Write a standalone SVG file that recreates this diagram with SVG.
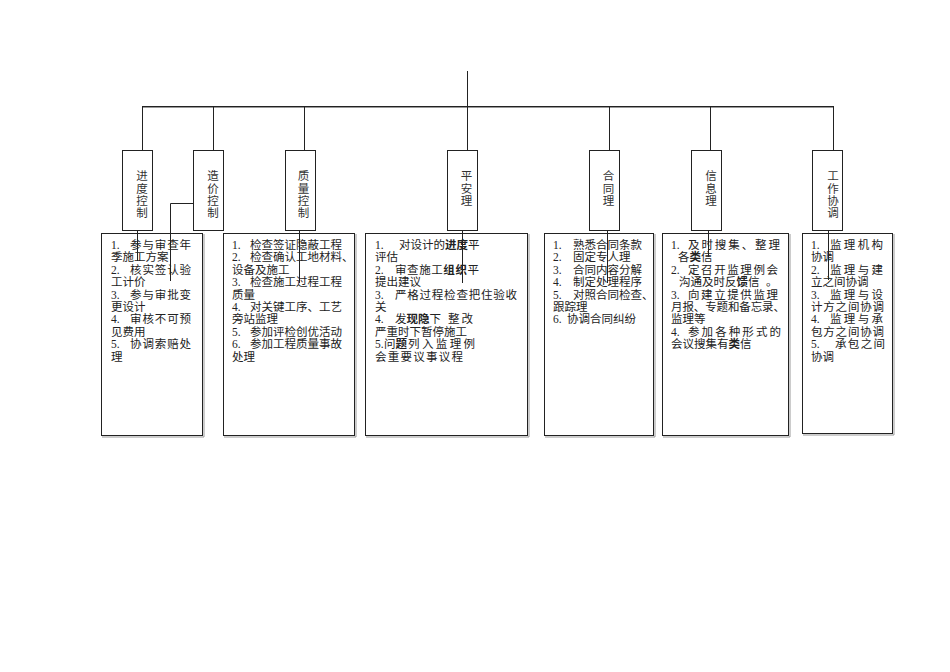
<svg xmlns="http://www.w3.org/2000/svg" width="950" height="672" viewBox="0 0 950 672">
<style>
.bx{fill:#fff;stroke:#222;stroke-width:1}
.sh{fill:none;stroke:#999;stroke-width:1}
.ln{fill:none;stroke:#222;stroke-width:1}
.t{font-family:"Liberation Serif","Noto Sans CJK SC",serif;font-size:11.5px;fill:#222}
.h{font-family:"Liberation Serif","Noto Sans CJK SC",serif;font-size:11.5px;fill:#333;text-anchor:middle}
.b{font-weight:bold}
</style>
<rect width="950" height="672" fill="#fff"/>

<g id="n-jindu">
<rect class="bx" x="122.5" y="150.5" width="30" height="80"/>
<text class="h" x="142" y="180">进</text><text class="h" x="142" y="192.5">度</text><text class="h" x="142" y="205">控</text><text class="h" x="142" y="217">制</text>
</g>
<g id="n-zaojia">
<rect class="bx" x="193.5" y="150.5" width="30" height="80"/>
<text class="h" x="213" y="180">造</text><text class="h" x="213" y="192.5">价</text><text class="h" x="213" y="205">控</text><text class="h" x="213" y="217">制</text>
</g>
<g id="n-zhiliang">
<rect class="bx" x="285.5" y="150.5" width="30" height="80"/>
<text class="h" x="303.5" y="180">质</text><text class="h" x="303.5" y="192.5">量</text><text class="h" x="303.5" y="205">控</text><text class="h" x="303.5" y="217">制</text>
</g>
<g id="n-anquan">
<rect class="bx" x="447.5" y="150.5" width="30" height="80"/>
<text class="h" x="466.5" y="180">平</text><text class="h" x="466.5" y="192.5">安</text><text class="h" x="466.5" y="205">理</text>
</g>
<g id="n-hetong">
<rect class="bx" x="589.5" y="150.5" width="30" height="80"/>
<text class="h" x="608.5" y="180">合</text><text class="h" x="608.5" y="192.5">同</text><text class="h" x="608.5" y="205">理</text>
</g>
<g id="n-xinxi">
<rect class="bx" x="691.5" y="150.5" width="30" height="80"/>
<text class="h" x="711" y="180">信</text><text class="h" x="711" y="192.5">息</text><text class="h" x="711" y="205">理</text>
</g>
<g id="n-xietiao">
<rect class="bx" x="812.5" y="150.5" width="30" height="80"/>
<text class="h" x="833" y="180">工</text><text class="h" x="833" y="192.5">作</text><text class="h" x="833" y="205">协</text><text class="h" x="833" y="217">调</text>
</g>

<g id="c-jindu">
<polyline class="sh" points="204,234 204,437 102,437"/>
<rect class="bx" x="101.5" y="233.5" width="101" height="202"/>
<text class="t" x="111" y="249">1.</text><text class="t" x="130" y="249" textLength="61" lengthAdjust="spacing">参与审查年</text>
<text class="t" x="111" y="261.4">季施工方案</text>
<text class="t" x="111" y="273.8">2.</text><text class="t" x="130" y="273.8" textLength="61" lengthAdjust="spacing">核实签认验</text>
<text class="t" x="111" y="286.2">工计价</text>
<text class="t" x="111" y="298.6">3.</text><text class="t" x="130" y="298.6" textLength="61" lengthAdjust="spacing">参与审批变</text>
<text class="t" x="111" y="311">更设计</text>
<text class="t" x="111" y="323.4">4.</text><text class="t" x="130" y="323.4" textLength="61" lengthAdjust="spacing">审核不可预</text>
<text class="t" x="111" y="335.8">见费用</text>
<text class="t" x="111" y="348.2">5.</text><text class="t" x="130" y="348.2" textLength="61" lengthAdjust="spacing">协调索赔处</text>
<text class="t" x="111" y="360.6">理</text>
</g>

<g id="c-zhiliang">
<polyline class="sh" points="356,234 356,437 224,437"/>
<rect class="bx" x="223.5" y="233.5" width="131" height="202"/>
<text class="t" x="232" y="249">1.</text><text class="t" x="250" y="249">检查签证隐蔽工程</text>
<text class="t" x="232" y="261.4">2.</text><text class="t" x="250" y="261.4">检查确认工地材料、</text>
<text class="t" x="232" y="273.8">设备及施工</text>
<text class="t" x="232" y="286.2">3.</text><text class="t" x="250" y="286.2">检查施工过程工程</text>
<text class="t" x="232" y="298.6">质量</text>
<text class="t" x="232" y="311">4.</text><text class="t" x="250" y="311">对关键工序、工艺</text>
<text class="t" x="232" y="323.4">旁站监理</text>
<text class="t" x="232" y="335.8">5.</text><text class="t" x="250" y="335.8">参加评检创优活动</text>
<text class="t" x="232" y="348.2">6.</text><text class="t" x="250" y="348.2">参加工程质量事故</text>
<text class="t" x="232" y="360.6">处理</text>
</g>

<g id="c-anquan">
<polyline class="sh" points="529,234 529,437 366,437"/>
<rect class="bx" x="365.5" y="233.5" width="162" height="202"/>
<text class="t" x="375" y="249">1.</text><text class="t" x="399" y="249">对设计的<tspan class="b">进度</tspan>平</text>
<text class="t" x="375" y="261.4">评估</text>
<text class="t" x="375" y="273.8">2.</text><text class="t" x="395" y="273.8" textLength="84" lengthAdjust="spacing">审查施工<tspan class="b">组织</tspan>平</text>
<text class="t" x="375" y="286.2">提出建议</text>
<text class="t" x="375" y="298.6">3.</text><text class="t" x="395" y="298.6" textLength="122" lengthAdjust="spacing">严格过程检查把住验收</text>
<text class="t" x="375" y="311">关</text>
<text class="t" x="375" y="323.4">4.</text><text class="t" x="395" y="323.4">发<tspan class="b">现隐</tspan>下</text><text class="t" x="448" y="323.4" textLength="25" lengthAdjust="spacing">整改</text>
<text class="t" x="375" y="335.8">严重时下暂停施工</text>
<text class="t" x="375" y="348.2">5.</text><text class="t" x="384" y="348.2">问<tspan class="b">题</tspan></text><text class="t" x="408" y="348.2" textLength="67" lengthAdjust="spacing">列入监理例</text>
<text class="t" x="375" y="360.6" textLength="88" lengthAdjust="spacing">会重要议事议程</text>
</g>

<g id="c-hetong">
<polyline class="sh" points="655,234 655,437 545,437"/>
<rect class="bx" x="544.5" y="233.5" width="109" height="202"/>
<text class="t" x="553" y="249">1.</text><text class="t" x="573" y="249">熟悉合同条款</text>
<text class="t" x="553" y="261.4">2.</text><text class="t" x="573" y="261.4">固定专人理</text>
<text class="t" x="553" y="273.8">3.</text><text class="t" x="573" y="273.8">合同内容分解</text>
<text class="t" x="553" y="286.2">4.</text><text class="t" x="573" y="286.2">制定处理程序</text>
<text class="t" x="553" y="298.6">5.</text><text class="t" x="573" y="298.6">对照合同检查、</text>
<text class="t" x="553" y="311">跟踪理</text>
<text class="t" x="553" y="323.4">6.</text><text class="t" x="567" y="323.4">协调合同纠纷</text>
</g>

<g id="c-xinxi">
<polyline class="sh" points="790,234 790,437 663,437"/>
<rect class="bx" x="662.5" y="233.5" width="126" height="202"/>
<text class="t" x="671" y="249">1.</text><text class="t" x="688" y="249" textLength="92" lengthAdjust="spacing">及时搜集、整理</text>
<text class="t" x="678" y="261.4">各<tspan class="b">类</tspan>信</text>
<text class="t" x="671" y="273.8">2.</text><text class="t" x="688" y="273.8" textLength="90" lengthAdjust="spacing">定召开监理例会</text>
<text class="t" x="679" y="286.2">沟通及时反<tspan class="b">馈</tspan>信</text><text class="t" x="766" y="286.2">。</text>
<text class="t" x="671" y="298.6">3.</text><text class="t" x="688" y="298.6" textLength="90" lengthAdjust="spacing">向建立提供监理</text>
<text class="t" x="671" y="311" textLength="114" lengthAdjust="spacing">月报、专题和备忘录、</text>
<text class="t" x="671" y="323.4">监理等</text>
<text class="t" x="671" y="335.8">4.</text><text class="t" x="688" y="335.8" textLength="93" lengthAdjust="spacing">参加各种形式的</text>
<text class="t" x="671" y="348.2">会议搜集有<tspan class="b">类</tspan>信</text>
</g>

<g id="c-xietiao">
<polyline class="sh" points="894,234 894,435 803,435"/>
<rect class="bx" x="802.5" y="233.5" width="90" height="200"/>
<text class="t" x="811" y="249">1.</text><text class="t" x="830" y="249" textLength="53" lengthAdjust="spacing">监理机构</text>
<text class="t" x="811" y="261.4">协调</text>
<text class="t" x="811" y="273.8">2.</text><text class="t" x="830" y="273.8" textLength="53" lengthAdjust="spacing">监理与建</text>
<text class="t" x="811" y="286.2">立之间协调</text>
<text class="t" x="811" y="298.6">3.</text><text class="t" x="830" y="298.6" textLength="53" lengthAdjust="spacing">监理与设</text>
<text class="t" x="811" y="311" textLength="73" lengthAdjust="spacing">计方之间协调</text>
<text class="t" x="811" y="323.4">4.</text><text class="t" x="830" y="323.4" textLength="53" lengthAdjust="spacing">监理与承</text>
<text class="t" x="811" y="335.8" textLength="73" lengthAdjust="spacing">包方之间协调</text>
<text class="t" x="811" y="348.2">5.</text><text class="t" x="835" y="348.2" textLength="50" lengthAdjust="spacing">承包之间</text>
<text class="t" x="811" y="360.6">协调</text>
</g>

<g id="connectors">
<line class="ln" x1="467.5" y1="71" x2="467.5" y2="108"/>
<line class="ln" x1="142" y1="106.5" x2="834" y2="106.5"/>
<line class="sh" x1="142" y1="107.5" x2="834" y2="107.5"/>
<line class="ln" x1="142.5" y1="106" x2="142.5" y2="150"/>
<line class="ln" x1="213.5" y1="106" x2="213.5" y2="150"/>
<line class="ln" x1="304.5" y1="106" x2="304.5" y2="150"/>
<line class="ln" x1="467.5" y1="106" x2="467.5" y2="150"/>
<line class="ln" x1="609.5" y1="106" x2="609.5" y2="150"/>
<line class="ln" x1="710.5" y1="106" x2="710.5" y2="150"/>
<line class="ln" x1="833.5" y1="106" x2="833.5" y2="150"/>
<line class="ln" x1="137.5" y1="230" x2="137.5" y2="261"/>
<polyline class="ln" points="193,203.5 170.5,203.5 170.5,281"/>
<line class="ln" x1="299.5" y1="230" x2="299.5" y2="283"/>
<line class="ln" x1="462.5" y1="230" x2="462.5" y2="283"/>
<line class="ln" x1="607.5" y1="230" x2="607.5" y2="283"/>
<line class="ln" x1="708.5" y1="230" x2="708.5" y2="257"/>
<line class="ln" x1="828.5" y1="230" x2="828.5" y2="280"/>
</g>
</svg>
